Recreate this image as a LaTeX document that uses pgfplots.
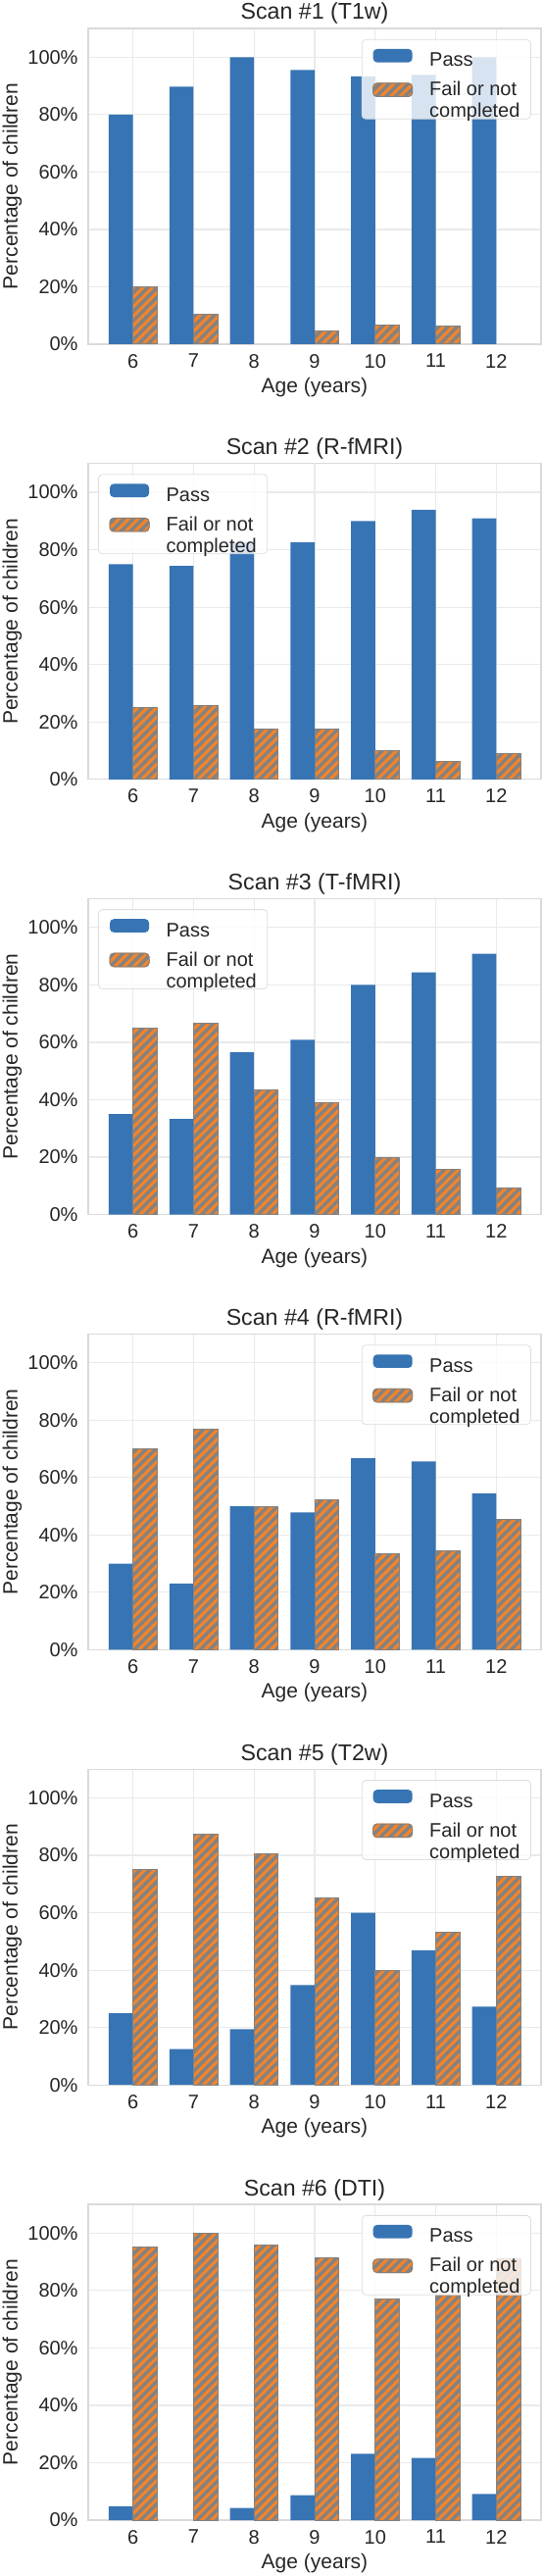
\documentclass[border=0pt]{standalone}
\usepackage{pgfplots}
\pgfplotsset{compat=1.18}
\usepackage{fontspec}
\setmainfont{Liberation Sans}
\usetikzlibrary{patterns.meta}
\definecolor{passblue}{RGB}{55,116,180}
\definecolor{failorange}{RGB}{242,132,44}
\definecolor{stripegray}{RGB}{130,130,130}
\definecolor{gridc}{RGB}{234,234,234}
\definecolor{framec}{RGB}{218,218,218}
\definecolor{textc}{RGB}{38,38,38}
\definecolor{legc}{RGB}{222,222,222}

\pgfplotsset{
  panel/.style={
    scale only axis, width=231pt, height=161pt,
    xmin=5.26, xmax=12.74, ymin=0, ymax=110,
    xtick={6,7,8,9,10,11,12},
    ytick={0,20,40,60,80,100},
    yticklabels={0\%,20\%,40\%,60\%,80\%,100\%},
    /pgf/number format/assume math mode=true,
    major tick length=0pt,
    xmajorgrids, ymajorgrids,
    grid style={color=gridc, line width=0.6pt},
    axis line style={color=framec, line width=0.6pt},
    tick label style={font=\fontsize{10}{12}\selectfont, color=textc},
    xticklabel style={yshift=-1.5pt},
    yticklabel style={xshift=-1.7pt},
    every axis title shift=0pt,
    title style={at={(axis description cs:0.5,1.0466)}, anchor=center, font=\fontsize{11.6}{13}\selectfont, color=textc},
    xlabel={Age (years)}, ylabel={Percentage of children},
    every axis x label/.style={at={(axis description cs:0.5,-0.1366)}, anchor=center, font=\fontsize{10.5}{12}\selectfont, color=textc},
    every axis y label/.style={at={(axis description cs:-0.1677,0.5)}, anchor=center, rotate=90, font=\fontsize{10.5}{12}\selectfont, color=textc},
    legend cell align=left,
    legend style={draw=legc, fill=white, fill opacity=0.8, draw opacity=1, text opacity=1,
      rounded corners=2pt, font=\fontsize{10}{11}\selectfont, text=textc,
      nodes={inner sep=0pt},
      inner xsep=5.5pt, inner ysep=4.8pt, row sep=6.2pt,
      /tikz/every odd column/.append style={column sep=8.5pt}},
  },
  passbar/.style={ybar, bar width=0.4, bar shift=-0.2, fill=passblue, draw=none,
     legend image code/.code={\fill[passblue, fill opacity=1] (0pt,-0.5pt) rectangle (20pt,6.3pt);}},
  failfill/.style={ybar, bar width=0.4, bar shift=0.2, fill=failorange, draw=none, forget plot},
  failpat/.style={ybar, bar width=0.4, bar shift=0.2, draw=stripegray, line width=0.5pt,
     pattern={Lines[angle=45,distance=3.4pt,line width=1.7pt]}, pattern color=stripegray,
     legend image code/.code={\fill[failorange, fill opacity=1] (0pt,-0.5pt) rectangle (20pt,6.3pt);
       \draw[stripegray, fill opacity=1, line width=0.5pt, pattern={Lines[angle=45,distance=3.4pt,line width=1.7pt]}, pattern color=stripegray] (0pt,-0.5pt) rectangle (20pt,6.3pt);}},
}
\newcommand{\failentry}{$\vcenter{\baselineskip=11pt\hbox{Fail or not}\hbox{completed}}$}

\begin{document}
\begin{tikzpicture}
\useasboundingbox (0,0) rectangle (277.5pt,-1313.5pt);

% Scan 1
\begin{axis}[panel, at={(45pt,-14.5pt)}, anchor=north west, title={Scan \#1 (T1w)},
  legend style={at={(0.978,0.966)}, anchor=north east}]
\addplot[passbar] coordinates {(6,80) (7,89.7) (8,100) (9,95.5) (10,93.3) (11,93.8) (12,100)};
\addlegendentry{Pass}
\addplot[failfill] coordinates {(6,20) (7,10.3) (9,4.5) (10,6.7) (11,6.2)};
\addplot[failpat] coordinates {(6,20) (7,10.3) (9,4.5) (10,6.7) (11,6.2)};
\addlegendentry{\failentry}
\end{axis}

% Scan 2
\begin{axis}[panel, at={(45pt,-236.4pt)}, anchor=north west, title={Scan \#2 (R-fMRI)},
  legend style={at={(0.022,0.967)}, anchor=north west}]
\addplot[passbar] coordinates {(6,75) (7,74.4) (8,82.6) (9,82.6) (10,90) (11,93.9) (12,90.9)};
\addlegendentry{Pass}
\addplot[failfill] coordinates {(6,25) (7,25.6) (8,17.4) (9,17.4) (10,10) (11,6.1) (12,9.1)};
\addplot[failpat] coordinates {(6,25) (7,25.6) (8,17.4) (9,17.4) (10,10) (11,6.1) (12,9.1)};
\addlegendentry{\failentry}
\end{axis}

% Scan 3
\begin{axis}[panel, at={(45pt,-458.3pt)}, anchor=north west, title={Scan \#3 (T-fMRI)},
  legend style={at={(0.022,0.967)}, anchor=north west}]
\addplot[passbar] coordinates {(6,35) (7,33.3) (8,56.5) (9,60.9) (10,80) (11,84.4) (12,90.9)};
\addlegendentry{Pass}
\addplot[failfill] coordinates {(6,65) (7,66.7) (8,43.5) (9,39.1) (10,20) (11,15.6) (12,9.1)};
\addplot[failpat] coordinates {(6,65) (7,66.7) (8,43.5) (9,39.1) (10,20) (11,15.6) (12,9.1)};
\addlegendentry{\failentry}
\end{axis}

% Scan 4
\begin{axis}[panel, at={(45pt,-680.2pt)}, anchor=north west, title={Scan \#4 (R-fMRI)},
  legend style={at={(0.978,0.966)}, anchor=north east}]
\addplot[passbar] coordinates {(6,30) (7,23.1) (8,50) (9,47.8) (10,66.7) (11,65.6) (12,54.5)};
\addlegendentry{Pass}
\addplot[failfill] coordinates {(6,70) (7,76.9) (8,50) (9,52.2) (10,33.3) (11,34.4) (12,45.5)};
\addplot[failpat] coordinates {(6,70) (7,76.9) (8,50) (9,52.2) (10,33.3) (11,34.4) (12,45.5)};
\addlegendentry{\failentry}
\end{axis}

% Scan 5
\begin{axis}[panel, at={(45pt,-902.1pt)}, anchor=north west, title={Scan \#5 (T2w)},
  legend style={at={(0.978,0.966)}, anchor=north east}]
\addplot[passbar] coordinates {(6,25) (7,12.5) (8,19.4) (9,34.8) (10,60) (11,46.9) (12,27.3)};
\addlegendentry{Pass}
\addplot[failfill] coordinates {(6,75) (7,87.5) (8,80.6) (9,65.2) (10,40) (11,53.1) (12,72.7)};
\addplot[failpat] coordinates {(6,75) (7,87.5) (8,80.6) (9,65.2) (10,40) (11,53.1) (12,72.7)};
\addlegendentry{\failentry}
\end{axis}

% Scan 6
\begin{axis}[panel, at={(45pt,-1124pt)}, anchor=north west, title={Scan \#6 (DTI)},
  legend style={at={(0.978,0.966)}, anchor=north east}]
\addplot[passbar] coordinates {(6,4.8) (8,4.2) (9,8.7) (10,23.1) (11,21.7) (12,9.1)};
\addlegendentry{Pass}
\addplot[failfill] coordinates {(6,95.2) (7,100) (8,95.8) (9,91.3) (10,76.9) (11,78.3) (12,90.9)};
\addplot[failpat] coordinates {(6,95.2) (7,100) (8,95.8) (9,91.3) (10,76.9) (11,78.3) (12,90.9)};
\addlegendentry{\failentry}
\end{axis}
\end{tikzpicture}
\end{document}
